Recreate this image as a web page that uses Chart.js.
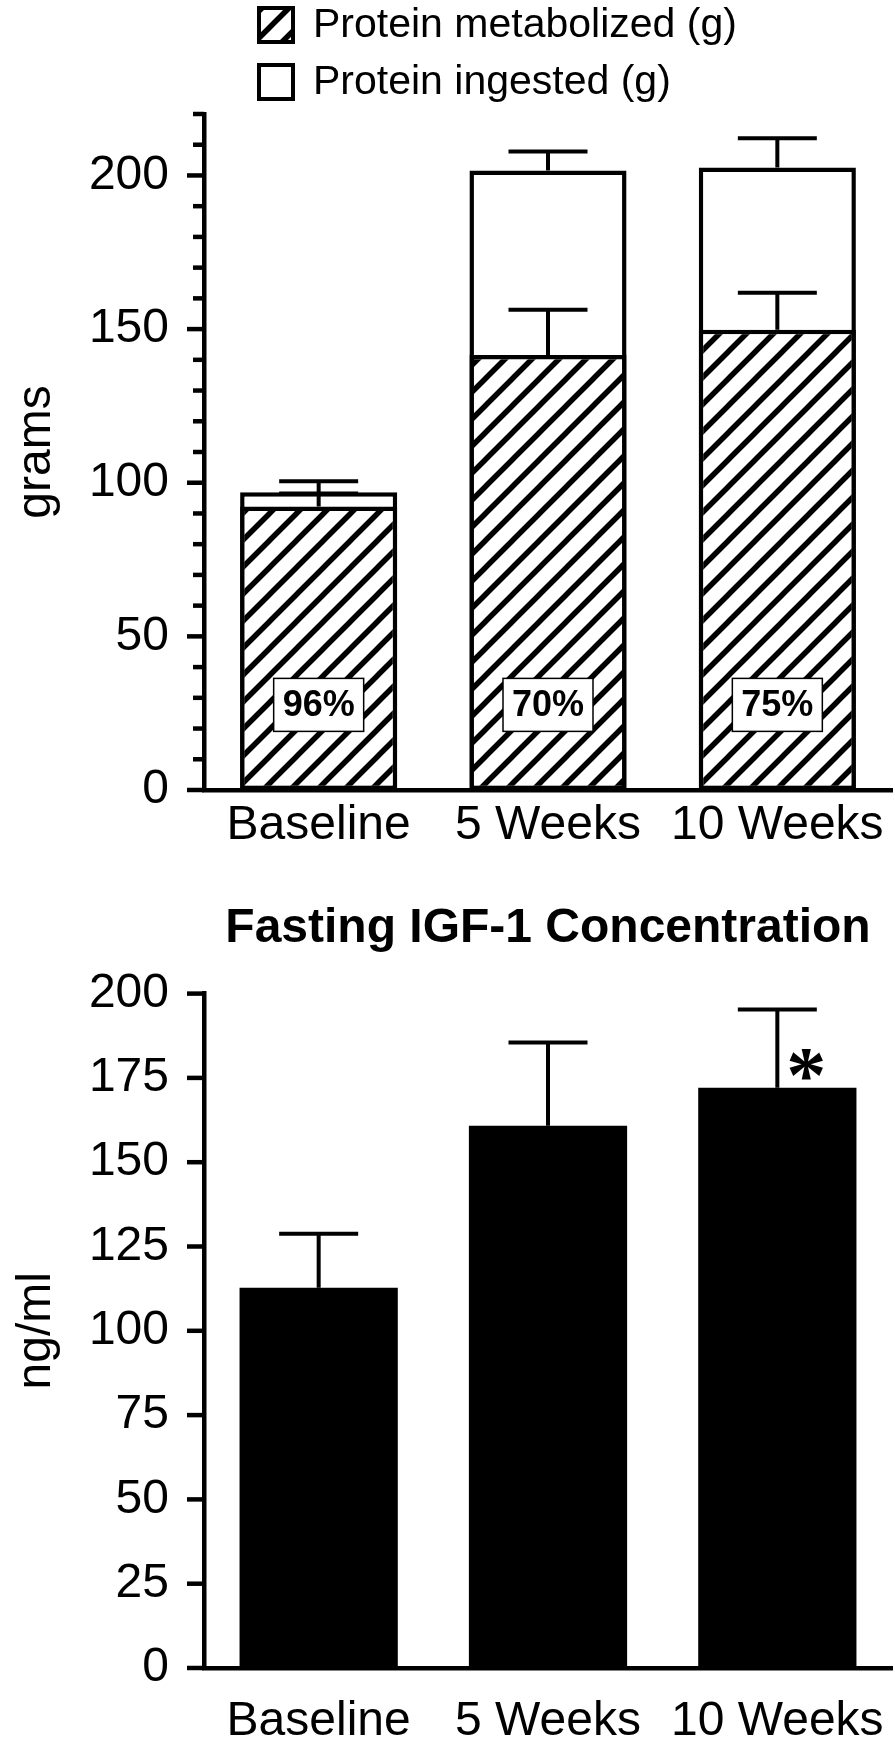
<!DOCTYPE html>
<html lang="en">
  <head>
    <meta charset="UTF-8" />
    <title>Protein and IGF-1</title>
    <script src="https://cdn.jsdelivr.net/npm/chart.js@4.4.1/dist/chart.umd.min.js"></script>
    <style>
      html,
      body {
        margin: 0;
        padding: 0;
        background: #fff;
      }
      body {
        width: 895px;
        height: 1751px;
        position: relative;
        overflow: hidden;
      }
      .panel {
        position: absolute;
        left: 0;
        width: 895px;
      }
      #top {
        top: 0;
        height: 870px;
      }
      #bottom {
        top: 870px;
        height: 881px;
      }
    </style>
  </head>
  <body>
    <div class="panel" id="top"><canvas id="proteinChart"></canvas></div>
    <div class="panel" id="bottom"><canvas id="igfChart"></canvas></div>
    <script>
      // values
      const categories = ["Baseline", "5 Weeks", "10 Weeks"];
      const metabolized = [92.3, 141.6, 149.8];
      const metabolizedErr = [4.2, 14.7, 12.0];
      const ingested = [96.9, 201.6, 202.6];
      const ingestedErr = [3.6, 6.2, 9.5];
      const percentLabels = ["96%", "70%", "75%"];
      const igf = [112.8, 160.8, 172.1];
      const igfErr = [16.0, 24.7, 23.2];
      const igfMarks = ["", "", "*"];

      const FONT = '"Liberation Sans", Arial, Helvetica, sans-serif';
      Chart.defaults.font.family = FONT;
      Chart.defaults.color = "#000";
      Chart.defaults.animation = false;

      function hatchPattern(ctx) {
        const s = 27;
        const c = document.createElement("canvas");
        c.width = s;
        c.height = s;
        const g = c.getContext("2d");
        g.fillStyle = "#fff";
        g.fillRect(0, 0, s, s);
        g.strokeStyle = "#000";
        g.lineWidth = 5.5;
        g.beginPath();
        g.moveTo(0, s);
        g.lineTo(s, 0);
        g.moveTo(-s / 2, s / 2);
        g.lineTo(s / 2, -s / 2);
        g.moveTo(s / 2, s * 1.5);
        g.lineTo(s * 1.5, s / 2);
        g.stroke();
        return ctx.createPattern(c, "repeat");
      }

      // y ticks drawn by hand so minor and major can have different lengths
      const yTicks = {
        id: "yTicks",
        afterDraw(chart) {
          const y = chart.scales.y;
          const ctx = chart.ctx;
          const x0 = chart.chartArea.left;
          ctx.save();
          ctx.strokeStyle = "#000";
          ctx.lineWidth = 4.5;
          y.ticks.forEach((t, i) => {
            const py = y.getPixelForTick(i);
            const len = t.label !== "" ? 17 : 11;
            ctx.beginPath();
            ctx.moveTo(x0 - len, py);
            ctx.lineTo(x0, py);
            ctx.stroke();
          });
          ctx.restore();
        },
      };

      function drawErrors(chart, dsIndex, err) {
        const ctx = chart.ctx;
        const y = chart.scales.y;
        const vals = chart.data.datasets[dsIndex].data;
        ctx.save();
        ctx.strokeStyle = "#000";
        ctx.lineWidth = 4;
        chart.getDatasetMeta(dsIndex).data.forEach((bar, i) => {
          const top = y.getPixelForValue(vals[i] + err[i]);
          ctx.beginPath();
          ctx.moveTo(bar.x, bar.y);
          ctx.lineTo(bar.x, top);
          ctx.moveTo(bar.x - 39.5, top);
          ctx.lineTo(bar.x + 39.5, top);
          ctx.stroke();
        });
        ctx.restore();
      }

      const proteinExtras = {
        id: "proteinExtras",
        afterDatasetsDraw(chart) {
          drawErrors(chart, 1, ingestedErr);
          drawErrors(chart, 0, metabolizedErr);

          // percentage boxes
          const ctx = chart.ctx;
          const py = chart.scales.y.getPixelForValue(27.7);
          ctx.save();
          ctx.font = "bold 36px " + FONT;
          ctx.textAlign = "center";
          ctx.textBaseline = "middle";
          chart.getDatasetMeta(0).data.forEach((bar, i) => {
            ctx.fillStyle = "#fff";
            ctx.fillRect(bar.x - 45, py - 26.5, 90, 53);
            ctx.strokeStyle = "#000";
            ctx.lineWidth = 1.5;
            ctx.strokeRect(bar.x - 45, py - 26.5, 90, 53);
            ctx.fillStyle = "#000";
            ctx.fillText(percentLabels[i], bar.x, py + 1);
          });
          ctx.restore();
        },
        afterDraw(chart) {
          // legend, two rows stacked at the top left
          const ctx = chart.ctx;
          ctx.save();
          chart.data.datasets.forEach((ds, i) => {
            const cy = 25 + i * 57;
            ctx.fillStyle = ds.backgroundColor;
            ctx.fillRect(257, cy - 19, 38, 38);
            ctx.strokeStyle = "#000";
            ctx.lineWidth = 4;
            ctx.strokeRect(259, cy - 17, 34, 34);
            ctx.fillStyle = "#000";
            ctx.font = "41px " + FONT;
            ctx.textAlign = "left";
            ctx.textBaseline = "middle";
            ctx.fillText(ds.label, 313, cy + 1);
          });
          ctx.restore();
        },
      };

      const igfExtras = {
        id: "igfExtras",
        afterDatasetsDraw(chart) {
          drawErrors(chart, 0, igfErr);
          const ctx = chart.ctx;
          const y = chart.scales.y;
          ctx.save();
          ctx.font = 'bold 80px "Liberation Serif", "Times New Roman", serif';
          ctx.textAlign = "center";
          ctx.textBaseline = "alphabetic";
          ctx.fillStyle = "#000";
          chart.getDatasetMeta(0).data.forEach((bar, i) => {
            if (!igfMarks[i]) return;
            const cy = y.getPixelForValue(igf[i]) - 30;
            ctx.fillText(igfMarks[i], bar.x + 29, cy + 44);
          });
          ctx.restore();
        },
      };

      const proteinCanvas = document.getElementById("proteinChart");
      const hatch = hatchPattern(proteinCanvas.getContext("2d"));

      const proteinChart = new Chart(proteinCanvas, {
        type: "bar",
        data: {
          labels: categories,
          datasets: [
            {
              label: "Protein metabolized (g)",
              data: metabolized,
              backgroundColor: hatch,
              borderColor: "#000",
              borderWidth: 4.5,
              borderSkipped: false,
              barPercentage: 0.685,
              categoryPercentage: 1,
            },
            {
              label: "Protein ingested (g)",
              data: ingested,
              backgroundColor: "#fff",
              borderColor: "#000",
              borderWidth: 4.5,
              borderSkipped: false,
              barPercentage: 0.685,
              categoryPercentage: 1,
            },
          ],
        },
        options: {
          responsive: true,
          maintainAspectRatio: false,
          layout: { padding: { top: 114, right: 3, left: 0, bottom: 0 } },
          plugins: {
            legend: { display: false },
            tooltip: { enabled: false },
          },
          scales: {
            x: {
              stacked: true,
              grid: { display: false, drawTicks: false },
              border: { display: true, color: "#000", width: 4.5 },
              ticks: { font: { size: 48 }, padding: 7, autoSkip: false, maxRotation: 0 },
              afterFit(s) {
                s.height = 80;
              },
            },
            y: {
              min: 0,
              max: 220,
              grid: { display: false, drawTicks: false },
              border: { display: true, color: "#000", width: 4.5 },
              ticks: {
                stepSize: 10,
                autoSkip: false,
                padding: 35,
                font: { size: 48 },
                callback: (v) => (v % 50 === 0 ? v : ""),
              },
              title: { display: true, text: "grams", font: { size: 48 }, padding: { top: 8, bottom: 0 } },
              afterFit(s) {
                s.width = 204;
              },
            },
          },
        },
        plugins: [yTicks, proteinExtras],
      });

      const igfChart = new Chart(document.getElementById("igfChart"), {
        type: "bar",
        data: {
          labels: categories,
          datasets: [
            {
              label: "IGF-1 (ng/ml)",
              data: igf,
              backgroundColor: "#000",
              borderWidth: 0,
              barPercentage: 0.69,
              categoryPercentage: 1,
            },
          ],
        },
        options: {
          responsive: true,
          maintainAspectRatio: false,
          layout: { padding: { top: 0, right: 3, left: 0, bottom: 0 } },
          plugins: {
            legend: { display: false },
            tooltip: { enabled: false },
            title: {
              display: true,
              text: "Fasting IGF-1 Concentration",
              fullSize: false,
              color: "#000",
              font: { size: 48, weight: "bold" },
              padding: { top: 30, bottom: 36 },
            },
          },
          scales: {
            x: {
              grid: { display: false, drawTicks: false },
              border: { display: true, color: "#000", width: 4.5 },
              // small padding keeps the category band wide; the tall line box pushes labels down
              ticks: {
                font: { size: 48, lineHeight: 1.95 },
                padding: 7,
                autoSkip: false,
                maxRotation: 0,
              },
              afterFit(s) {
                s.height = 83;
              },
            },
            y: {
              min: 0,
              max: 200,
              grid: { display: false, drawTicks: false },
              border: { display: true, color: "#000", width: 4.5 },
              ticks: { stepSize: 25, autoSkip: false, padding: 35, font: { size: 48 } },
              title: { display: true, text: "ng/ml", font: { size: 48 }, padding: { top: 8, bottom: 0 } },
              afterFit(s) {
                s.width = 204;
              },
            },
          },
        },
        plugins: [yTicks, igfExtras],
      });
    </script>
  </body>
</html>
